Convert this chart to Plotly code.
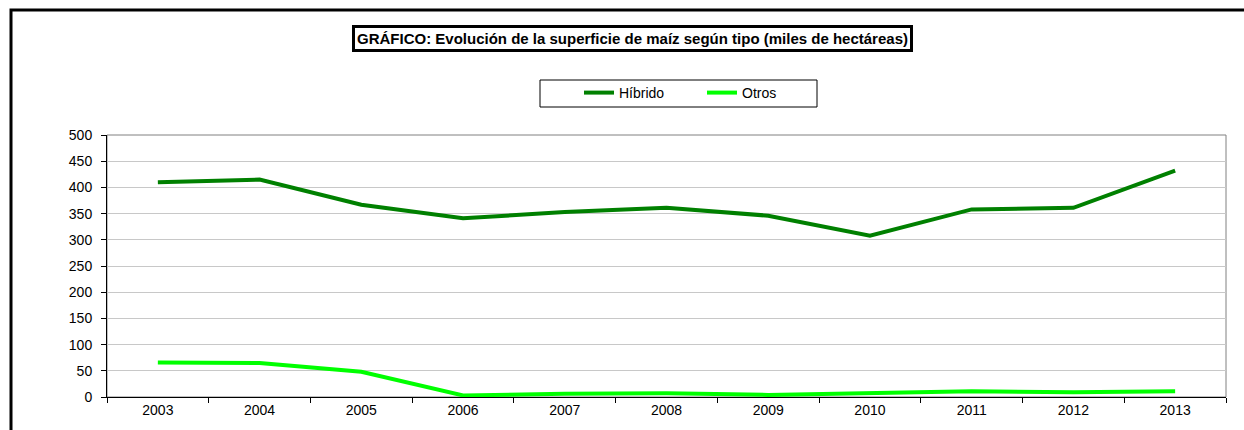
import plotly.graph_objects as go

years = ["2003", "2004", "2005", "2006", "2007", "2008", "2009", "2010", "2011", "2012", "2013"]
hibrido = [410, 415, 367, 341, 353, 361, 346, 308, 358, 361, 432]
otros = [66, 65, 48, 3, 6, 7, 4, 8, 11, 9, 11]

W, H = 1244, 430
L, R, T, B = 107, 1226, 135, 397

def px(x):
    return (x - L) / (R - L)

def py(y):
    return (B - y) / (B - T)

fig = go.Figure()
fig.add_trace(go.Scatter(x=years, y=hibrido, mode="lines", name="Híbrido",
                         line=dict(color="#008000", width=4)))
fig.add_trace(go.Scatter(x=years, y=otros, mode="lines", name="Otros",
                         line=dict(color="#00FF00", width=4)))

font = "Liberation Sans, Arial, sans-serif"
fig.update_layout(
    width=W, height=H,
    margin=dict(l=L, r=W - R, t=T, b=H - B, pad=0),
    paper_bgcolor="white", plot_bgcolor="white",
    font=dict(family=font, size=14, color="black"),
    showlegend=True,
    legend=dict(orientation="h", x=px(579), xanchor="left", y=py(93), yanchor="middle",
                bgcolor="rgba(0,0,0,0)", borderwidth=0, entrywidth=78,
                font=dict(family=font, size=14, color="black"), itemclick=False,
                itemdoubleclick=False),
    xaxis=dict(type="category", range=[-0.5, 10.5], showline=True, linecolor="black", linewidth=1,
               ticks="outside", ticklen=5, tickcolor="black", tickson="boundaries",
               showgrid=False, tickfont=dict(size=14), fixedrange=True),
    yaxis=dict(range=[0, 500], dtick=50, showline=True, linecolor="black", linewidth=1,
               ticks="outside", ticklen=5, tickcolor="black", ticklabelstandoff=6,
               showgrid=True, gridcolor="#c8c8c8", gridwidth=1, zeroline=False,
               tickfont=dict(size=14), fixedrange=True),
    shapes=[
        dict(type="rect", xref="paper", yref="paper", x0=0, x1=1, y0=0, y1=1,
             line=dict(color="#808080", width=1), layer="below"),
        dict(type="rect", xref="paper", yref="paper", x0=px(11), x1=px(1260),
             y0=py(450), y1=py(10), line=dict(color="black", width=3)),
        dict(type="rect", xref="paper", yref="paper", x0=px(540), x1=px(817),
             y0=py(107), y1=py(80), line=dict(color="black", width=1)),
    ],
    annotations=[
        dict(text="<b>GRÁFICO: Evolución de la superficie de maíz según tipo (miles de hectáreas)</b>",
             xref="paper", yref="paper", x=px(632), y=py(38), xanchor="center", yanchor="middle",
             showarrow=False, font=dict(family=font, size=15, color="black"),
             bordercolor="black", borderwidth=3, borderpad=2, bgcolor="white"),
    ],
)

fig.write_html("out.html", config={"displayModeBar": False},
               post_script="document.body.style.margin='0';")
